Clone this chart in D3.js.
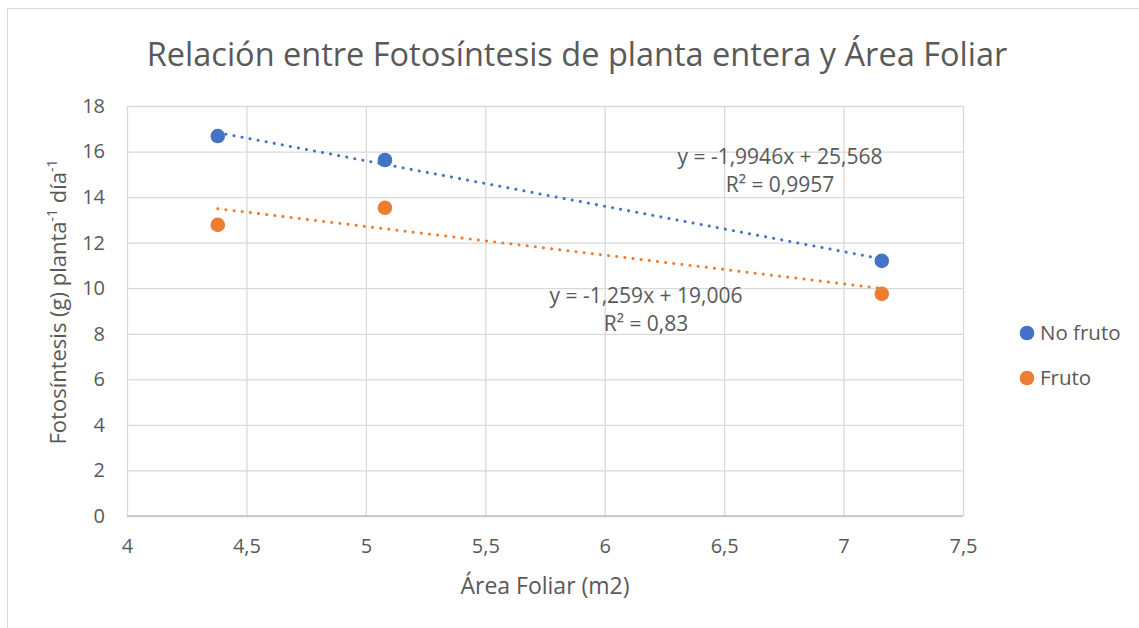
<!DOCTYPE html>
<html><head><meta charset="utf-8">
<script src="https://cdn.jsdelivr.net/npm/d3@7"></script>
<style>body{margin:0;background:#fff}svg{display:block}text{font-family:"Open Sans",sans-serif;fill:#595959}</style>
</head><body><svg id="c" width="1139" height="628"></svg>
<script>
const areaFoliar = [4.38, 5.08, 7.16];
const noFruto = [16.68, 15.63, 11.2];
const fruto = [12.78, 13.53, 9.75];
const seriesNames = ["No fruto", "Fruto"];
const seriesColors = ["#4472C4", "#ED7D31"];
const trendSlopes = [-1.9946, -1.259];
const trendIntercepts = [25.568, 19.006];
const eqLabels = [["y = -1,9946x + 25,568", "R² = 0,9957"], ["y = -1,259x + 19,006", "R² = 0,83"]];
const xTicks = [4, 4.5, 5, 5.5, 6, 6.5, 7, 7.5];
const yTicks = [0, 2, 4, 6, 8, 10, 12, 14, 16, 18];

const svg = d3.select("#c");
svg.append("rect").attr("x", 7.5).attr("y", 8.5).attr("width", 1140).attr("height", 640)
  .attr("fill", "#fff").attr("stroke", "#d9d9d9");

const x = d3.scaleLinear().domain([4, 7.5]).range([127, 963]);
const y = d3.scaleLinear().domain([0, 18]).range([516, 106]);
const fmt = d => String(d).replace(".", ",");

// grid
const gx = svg.append("g").attr("transform", "translate(0,516)")
  .call(d3.axisBottom(x).tickValues(xTicks).tickSize(-410).tickFormat(fmt));
const gy = svg.append("g").attr("transform", "translate(127,0)")
  .call(d3.axisLeft(y).tickValues(yTicks).tickSize(-836).tickFormat(fmt).tickPadding(22));
[gx, gy].forEach(g => {
  g.select(".domain").remove();
  g.selectAll(".tick line").attr("stroke", "#d9d9d9").attr("stroke-width", 1.3);
  g.selectAll(".tick text").style("font-size", "20px").attr("fill", "#595959");
});
gx.selectAll(".tick text").attr("y", 37).attr("dy", 0);
svg.append("line").attr("x1", 127).attr("x2", 963).attr("y1", 516).attr("y2", 516)
  .attr("stroke", "#bfbfbf").attr("stroke-width", 1.3);

const series = [noFruto, fruto];
series.forEach((vals, i) => {
  const x0 = d3.min(areaFoliar), x1 = d3.max(areaFoliar);
  svg.append("line")
    .attr("x1", x(x0)).attr("y1", y(trendSlopes[i] * x0 + trendIntercepts[i]))
    .attr("x2", x(x1)).attr("y2", y(trendSlopes[i] * x1 + trendIntercepts[i]))
    .attr("stroke", seriesColors[i]).attr("stroke-width", 3)
    .attr("stroke-linecap", "round").attr("stroke-dasharray", "0.1 8.1");
  svg.selectAll(null).data(vals).enter().append("circle")
    .attr("cx", (d, j) => x(areaFoliar[j])).attr("cy", d => y(d))
    .attr("r", 7.3).attr("fill", seriesColors[i]);
});

// equation labels
const eqPos = [[780, 164], [646, 303]];
eqLabels.forEach((lines, i) => {
  lines.forEach((t, k) => {
    svg.append("text").attr("x", eqPos[i][0]).attr("y", eqPos[i][1] + k * 28)
      .attr("text-anchor", "middle").style("font-size", "21px").text(t);
  });
});

// title
svg.append("text").attr("x", 577).attr("y", 66).attr("text-anchor", "middle")
  .style("font-size", "32.5px").text("Relación entre Fotosíntesis de planta entera y Área Foliar");

// axis titles
svg.append("text").attr("x", 545).attr("y", 594).attr("text-anchor", "middle")
  .style("font-size", "23px").text("Área Foliar (m2)");
const yt = svg.append("text").attr("transform", "translate(66,302) rotate(-90)")
  .attr("text-anchor", "middle").style("font-size", "22px");
yt.append("tspan").text("Fotosíntesis (g) planta");
yt.append("tspan").attr("dy", -9).style("font-size", "14px").text("-1");
yt.append("tspan").attr("dy", 9).text(" día");
yt.append("tspan").attr("dy", -9).style("font-size", "14px").text("-1");

// legend
seriesNames.forEach((n, i) => {
  const ly = 333 + i * 45;
  svg.append("circle").attr("cx", 1027).attr("cy", ly).attr("r", 7.3).attr("fill", seriesColors[i]);
  svg.append("text").attr("x", 1040).attr("y", ly + 7).style("font-size", "20.5px").text(n);
});
</script></body></html>
